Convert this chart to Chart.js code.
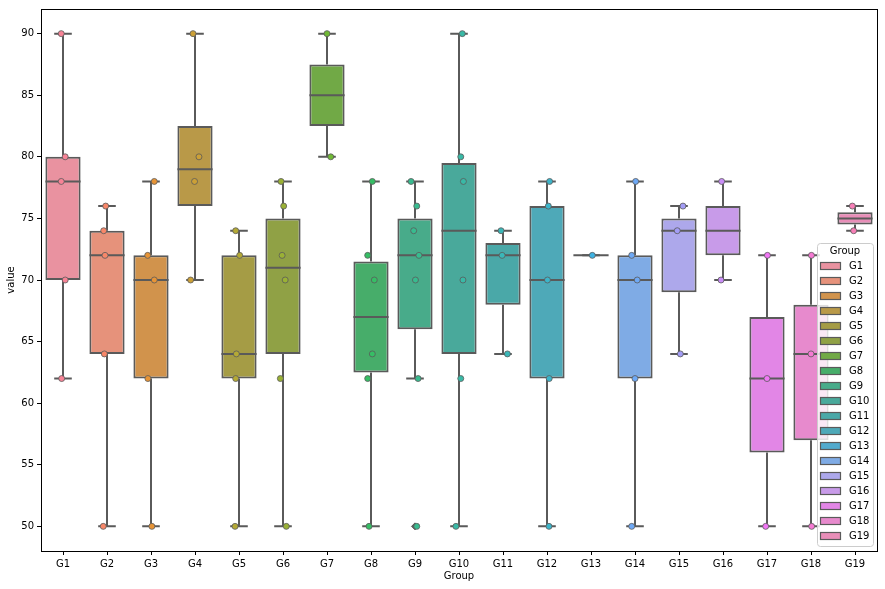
<!DOCTYPE html>
<html>
<head>
<meta charset="utf-8">
<script src="https://cdn.jsdelivr.net/npm/chart.js@4.4.1/dist/chart.umd.min.js"></script>
<style>
  html, body { margin: 0; padding: 0; background: #fff; }
  #wrap { width: 885px; height: 589px; position: relative; }
</style>
</head>
<body>
<div id="wrap"><canvas id="chart"></canvas></div>
<script>
// --- data ---
const groups = ['G1','G2','G3','G4','G5','G6','G7','G8','G9','G10','G11','G12','G13','G14','G15','G16','G17','G18','G19'];
const values = [
    [90, 80, 78, 70, 62],
    [76, 74, 72, 64, 50],
    [78, 72, 70, 62, 50],
    [90, 80, 78, 70],
    [74, 72, 64, 62, 50],
    [78, 76, 72, 70, 62, 50],
    [90, 80],
    [78, 72, 70, 64, 62, 50],
    [78, 76, 74, 72, 70, 62, 50],
    [90, 80, 78, 70, 62, 50],
    [74, 72, 64],
    [78, 76, 70, 62, 50],
    [72],
    [78, 72, 70, 62, 50],
    [76, 74, 64],
    [78, 70],
    [72, 62, 50],
    [72, 64, 50],
    [76, 74]
];
// strip plot jitter (category units), same order as values
const jitter = [
    [-0.04, 0.05, -0.04, 0.05, -0.03],
    [-0.03, -0.075, -0.045, -0.06, -0.085],
    [0.075, -0.075, 0.075, -0.07, 0.02],
    [-0.045, 0.09, -0.01, -0.1],
    [-0.075, 0.015, -0.06, -0.075, -0.09],
    [-0.045, 0.015, -0.02, 0.05, -0.06, 0.075],
    [0, 0.085],
    [0.03, -0.075, 0.075, 0.03, -0.075, -0.045],
    [-0.09, 0.04, -0.03, 0.09, 0.01, 0.07, 0.04],
    [0.075, 0.04, 0.1, 0.09, 0.04, -0.07],
    [-0.045, -0.02, 0.1],
    [0.06, 0.03, 0.01, 0.05, 0.045],
    [0.03],
    [0.015, -0.075, 0.05, 0, -0.075],
    [0.09, -0.04, 0.03],
    [-0.03, -0.045],
    [0.01, 0, -0.03],
    [0.01, 0, 0.015],
    [-0.06, -0.03]
];
const yTicks = [50, 55, 60, 65, 70, 75, 80, 85, 90];

// --- husl palette (seaborn style) ---
const M = [
    [3.240969941904521, -1.537383177570093, -0.498610760293],
    [-0.96924363628087, 1.87596750150772, 0.041555057407175],
    [0.055630079696993, -0.20397695888897, 1.056971514242878]
];
const KAPPA = 903.2962962, EPS = 0.0088564516;

function maxChroma(L, H) {
    const hrad = H / 360 * Math.PI * 2;
    const sub1 = Math.pow(L + 16, 3) / 1560896;
    const sub2 = sub1 > EPS ? sub1 : L / KAPPA;
    let min = Infinity;
    M.forEach(([m1, m2, m3]) => {
        [0, 1].forEach(t => {
            const top1 = (284517 * m1 - 94839 * m3) * sub2;
            const top2 = (838422 * m3 + 769860 * m2 + 731718 * m1) * L * sub2 - 769860 * t * L;
            const bottom = (632260 * m3 - 126452 * m2) * sub2 + 126452 * t;
            const len = (top2 / bottom) / (Math.sin(hrad) - (top1 / bottom) * Math.cos(hrad));
            if (len >= 0) min = Math.min(min, len);
        });
    });
    return min;
}

function huslToRgb(H, S, L) {
    const C = maxChroma(L, H) / 100 * S;
    const hr = H / 360 * Math.PI * 2;
    const U = Math.cos(hr) * C, V = Math.sin(hr) * C;
    const Y = L > 8 ? Math.pow((L + 16) / 116, 3) : L / KAPPA;
    const varU = U / (13 * L) + 0.19783000664283;
    const varV = V / (13 * L) + 0.46831999493879;
    const X = -(9 * Y * varU) / ((varU - 4) * varV - varU * varV);
    const Z = (9 * Y - 15 * varV * Y - varV * X) / (3 * varV);
    return M.map(r => {
        const c = r[0] * X + r[1] * Y + r[2] * Z;
        const g = c <= 0.0031308 ? 12.92 * c : 1.055 * Math.pow(c, 1 / 2.4) - 0.055;
        return Math.min(1, Math.max(0, g));
    });
}

function desaturate(rgb, k) {
    const l = (Math.max(...rgb) + Math.min(...rgb)) / 2;
    return rgb.map(c => l + (c - l) * k);
}
const toCss = rgb => 'rgb(' + rgb.map(c => Math.round(c * 255)).join(',') + ')';

const n = groups.length;
const paletteRgb = groups.map((g, i) => huslToRgb(((i / n + 0.01) % 1) * 359, 0.9 * 99, 0.69 * 99));
const boxRgb = paletteRgb.map(c => desaturate(c, 0.75));
const pointColors = paletteRgb.map(toCss);
const boxColors = boxRgb.map(toCss);
const gray = '#5a5a5a';

// --- box statistics ---
function quantile(sorted, p) {
    const pos = (sorted.length - 1) * p;
    const lo = Math.floor(pos), hi = Math.ceil(pos);
    return sorted[lo] + (sorted[hi] - sorted[lo]) * (pos - lo);
}
const stats = values.map(v => {
    const s = v.slice().sort((a, b) => a - b);
    const q1 = quantile(s, 0.25), med = quantile(s, 0.5), q3 = quantile(s, 0.75);
    const iqr = q3 - q1;
    const inside = s.filter(x => x >= q1 - 1.5 * iqr && x <= q3 + 1.5 * iqr);
    return {
        q1, med, q3,
        lo: Math.min(...inside), hi: Math.max(...inside),
        out: s.filter(x => x < q1 - 1.5 * iqr || x > q3 + 1.5 * iqr)
    };
});

// --- build datasets ---
const BOX_W = 0.8, CAP_W = 0.4;
const whiskerData = [], capData = [], medianData = [], flierData = [];
stats.forEach((s, i) => {
    whiskerData.push({x: i, y: s.lo}, {x: i, y: s.q1}, {x: i, y: null},
                     {x: i, y: s.q3}, {x: i, y: s.hi}, {x: i, y: null});
    capData.push({x: i - CAP_W / 2, y: s.lo}, {x: i + CAP_W / 2, y: s.lo}, {x: i, y: null},
                 {x: i - CAP_W / 2, y: s.hi}, {x: i + CAP_W / 2, y: s.hi}, {x: i, y: null});
    medianData.push({x: i - BOX_W / 2, y: s.med}, {x: i + BOX_W / 2, y: s.med}, {x: i, y: null});
    s.out.forEach(o => flierData.push({x: i, y: o}));
});

const stripData = [], stripColors = [];
values.forEach((v, i) => {
    v.forEach((y, j) => {
        stripData.push({x: i + jitter[i][j], y: y});
        stripColors.push(pointColors[i]);
    });
});

const lineDs = (data, w) => ({
    type: 'line', data, order: 1,
    borderColor: gray, borderWidth: w, pointRadius: 0,
    spanGaps: false, fill: false, tension: 0
});

// --- legend + frame drawn like matplotlib ---
const framePlugin = {
    id: 'frame',
    afterDraw(chart) {
        const ctx = chart.ctx, ca = chart.chartArea;
        ctx.save();
        // legend box
        const lx = ca.right - 60, ly = ca.bottom - 308, lw = 56, lh = 303;
        ctx.beginPath();
        ctx.roundRect(lx + 0.5, ly + 0.5, lw, lh, 3);
        ctx.fillStyle = 'rgba(255,255,255,0.8)';
        ctx.fill();
        ctx.strokeStyle = '#cccccc';
        ctx.lineWidth = 1;
        ctx.stroke();
        ctx.fillStyle = '#000';
        ctx.font = '10px "DejaVu Sans"';
        ctx.textAlign = 'center';
        ctx.textBaseline = 'middle';
        ctx.fillText('Group', lx + lw / 2, ly + 8);
        ctx.textAlign = 'left';
        groups.forEach((g, i) => {
            const y = ly + 23 + i * 15;
            ctx.fillStyle = boxColors[i];
            ctx.fillRect(lx + 3.5, y - 3.5, 20, 7);
            ctx.strokeStyle = gray;
            ctx.lineWidth = 1.2;
            ctx.strokeRect(lx + 3.5, y - 3.5, 20, 7);
            ctx.fillStyle = '#000';
            ctx.fillText(g, lx + 32, y);
        });
        // spines
        ctx.strokeStyle = '#000';
        ctx.lineWidth = 1;
        ctx.strokeRect(Math.round(ca.left) + 0.5, Math.round(ca.top) + 0.5,
                       Math.round(ca.right - ca.left), Math.round(ca.bottom - ca.top));
        ctx.restore();
    }
};

Chart.defaults.font.family = '"DejaVu Sans", sans-serif';
Chart.defaults.font.size = 10;
Chart.defaults.color = '#000';

new Chart(document.getElementById('chart'), {
    type: 'scatter',
    data: {
        datasets: [
            {
                type: 'scatter', data: stripData, order: 0,
                pointRadius: 3, pointHoverRadius: 3,
                pointBackgroundColor: stripColors,
                pointBorderColor: gray, pointBorderWidth: 0.8
            },
            {
                type: 'scatter', data: flierData, order: 0.5,
                pointStyle: 'rectRot', pointRadius: 3.5,
                pointBackgroundColor: gray, pointBorderColor: gray, pointBorderWidth: 1
            },
            lineDs(medianData, 2),
            lineDs(whiskerData, 2),
            lineDs(capData, 2),
            {
                type: 'bar', order: 2,
                data: stats.map((s, i) => ({x: i, y: [s.q1, s.q3]})),
                backgroundColor: boxColors,
                borderColor: gray, borderWidth: 2, borderSkipped: false,
                barPercentage: BOX_W, categoryPercentage: 1
            }
        ]
    },
    options: {
        responsive: true,
        maintainAspectRatio: false,
        animation: false,
        layout: { padding: { left: 0, right: 8, top: 8, bottom: 0 } },
        plugins: { legend: { display: false }, tooltip: { enabled: false } },
        scales: {
            x: {
                type: 'linear', min: -0.5, max: n - 0.5, offset: false,
                afterFit: s => { s.height = 38; },
                afterBuildTicks: s => { s.ticks = groups.map((g, i) => ({value: i})); },
                ticks: { autoSkip: false, maxRotation: 0, padding: 3, callback: v => groups[v] },
                grid: { offset: false, drawOnChartArea: false, drawTicks: true, tickLength: 4, tickColor: '#000', tickWidth: 1 },
                border: { display: false },
                title: { display: true, text: 'Group', padding: { top: 0, bottom: 7 } }
            },
            y: {
                min: 48, max: 92,
                afterFit: s => { s.width = 41; },
                afterBuildTicks: s => { s.ticks = yTicks.map(v => ({value: v})); },
                ticks: { padding: 3 },
                grid: { drawOnChartArea: false, drawTicks: true, tickLength: 4, tickColor: '#000', tickWidth: 1 },
                border: { display: false },
                title: { display: true, text: 'value', padding: { top: 5, bottom: 0 } }
            }
        }
    },
    plugins: [framePlugin]
});
</script>
</body>
</html>
